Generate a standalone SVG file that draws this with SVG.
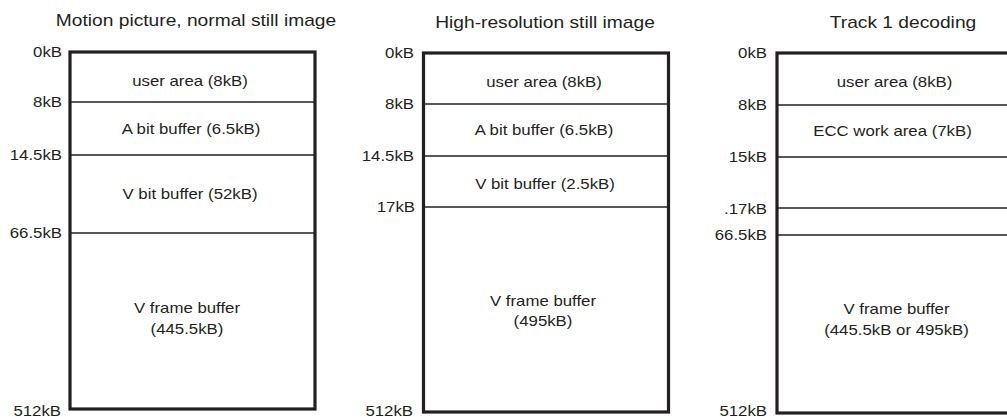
<svg xmlns="http://www.w3.org/2000/svg" width="1007" height="417" viewBox="0 0 1007 417">
<style>
text{font-family:"Liberation Sans",Arial,sans-serif;fill:#231f20}
.t{font-size:16px;text-anchor:middle}
.l{font-size:14px;text-anchor:middle}
.a{font-size:14px;text-anchor:end}
.box{fill:#fff;stroke:#231f20;stroke-width:3.2}
.div{stroke:#231f20;stroke-width:1.3;fill:none}
</style>
<rect width="1007" height="417" fill="#fff"/>

<g id="panel1">
<text class="t" transform="translate(196,26) scale(1.2,1)">Motion picture, normal still image</text>
<rect class="box" x="70" y="52" width="245" height="357"/>
<g id="p1-lines">
<line class="div" x1="70" y1="102" x2="315" y2="102"/>
<line class="div" x1="70" y1="155" x2="315" y2="155"/>
<line class="div" x1="70" y1="233" x2="315" y2="233"/>
</g>
<text class="a" transform="translate(62,57) scale(1.2,1)">0kB</text>
<text class="a" transform="translate(62,107) scale(1.2,1)">8kB</text>
<text class="a" transform="translate(62,160) scale(1.2,1)">14.5kB</text>
<text class="a" transform="translate(62,238) scale(1.2,1)">66.5kB</text>
<text class="a" transform="translate(61,415.5) scale(1.2,1)">512kB</text>
<g id="p1-user"><text class="l" transform="translate(190,86) scale(1.2,1)">user area (8kB)</text></g>
<g id="p1-abit"><text class="l" transform="translate(191,134) scale(1.2,1)">A bit buffer (6.5kB)</text></g>
<g id="p1-vbit"><text class="l" transform="translate(190,199) scale(1.2,1)">V bit buffer (52kB)</text></g>
<g id="p1-vframe"><text class="l" transform="translate(187,313) scale(1.2,1)">V frame buffer</text>
<text class="l" transform="translate(187,334) scale(1.2,1)">(445.5kB)</text></g>
</g>

<g id="panel2">
<text class="t" transform="translate(545,28) scale(1.2,1)">High-resolution still image</text>
<rect class="box" x="423.5" y="53" width="245" height="359"/>
<g id="p2-lines">
<line class="div" x1="423.5" y1="104" x2="668.5" y2="104"/>
<line class="div" x1="423.5" y1="156" x2="668.5" y2="156"/>
<line class="div" x1="423.5" y1="207" x2="668.5" y2="207"/>
</g>
<text class="a" transform="translate(414,58) scale(1.2,1)">0kB</text>
<text class="a" transform="translate(414,109) scale(1.2,1)">8kB</text>
<text class="a" transform="translate(414,161) scale(1.2,1)">14.5kB</text>
<text class="a" transform="translate(415,212) scale(1.2,1)">17kB</text>
<text class="a" transform="translate(413,415.5) scale(1.2,1)">512kB</text>
<g id="p2-user"><text class="l" transform="translate(544,87) scale(1.2,1)">user area (8kB)</text></g>
<g id="p2-abit"><text class="l" transform="translate(544,135) scale(1.2,1)">A bit buffer (6.5kB)</text></g>
<g id="p2-vbit"><text class="l" transform="translate(545,189) scale(1.2,1)">V bit buffer (2.5kB)</text></g>
<g id="p2-vframe"><text class="l" transform="translate(543,306) scale(1.2,1)">V frame buffer</text>
<text class="l" transform="translate(543,326) scale(1.2,1)">(495kB)</text></g>
</g>

<g id="panel3">
<text class="t" transform="translate(903,28) scale(1.2,1)">Track 1 decoding</text>
<rect class="box" x="777" y="53" width="245" height="360"/>
<g id="p3-lines">
<line class="div" x1="777" y1="105" x2="1010" y2="105"/>
<line class="div" x1="777" y1="157" x2="1010" y2="157"/>
<line class="div" x1="777" y1="208" x2="1010" y2="208"/>
<line class="div" x1="777" y1="235" x2="1010" y2="235"/>
</g>
<text class="a" transform="translate(767,58) scale(1.2,1)">0kB</text>
<text class="a" transform="translate(767,110) scale(1.2,1)">8kB</text>
<text class="a" transform="translate(767,162) scale(1.2,1)">15kB</text>
<text class="a" transform="translate(767,214) scale(1.2,1)">.17kB</text>
<text class="a" transform="translate(767,240) scale(1.2,1)">66.5kB</text>
<text class="a" transform="translate(767,415.5) scale(1.2,1)">512kB</text>
<g id="p3-user"><text class="l" transform="translate(894.5,87) scale(1.2,1)">user area (8kB)</text></g>
<g id="p3-ecc"><text class="l" transform="translate(892.5,136) scale(1.2,1)">ECC work area (7kB)</text></g>
<g id="p3-vframe"><text class="l" transform="translate(896.5,314) scale(1.2,1)">V frame buffer</text>
<text class="l" transform="translate(896.5,335) scale(1.2,1)">(445.5kB or 495kB)</text></g>
</g>
</svg>
